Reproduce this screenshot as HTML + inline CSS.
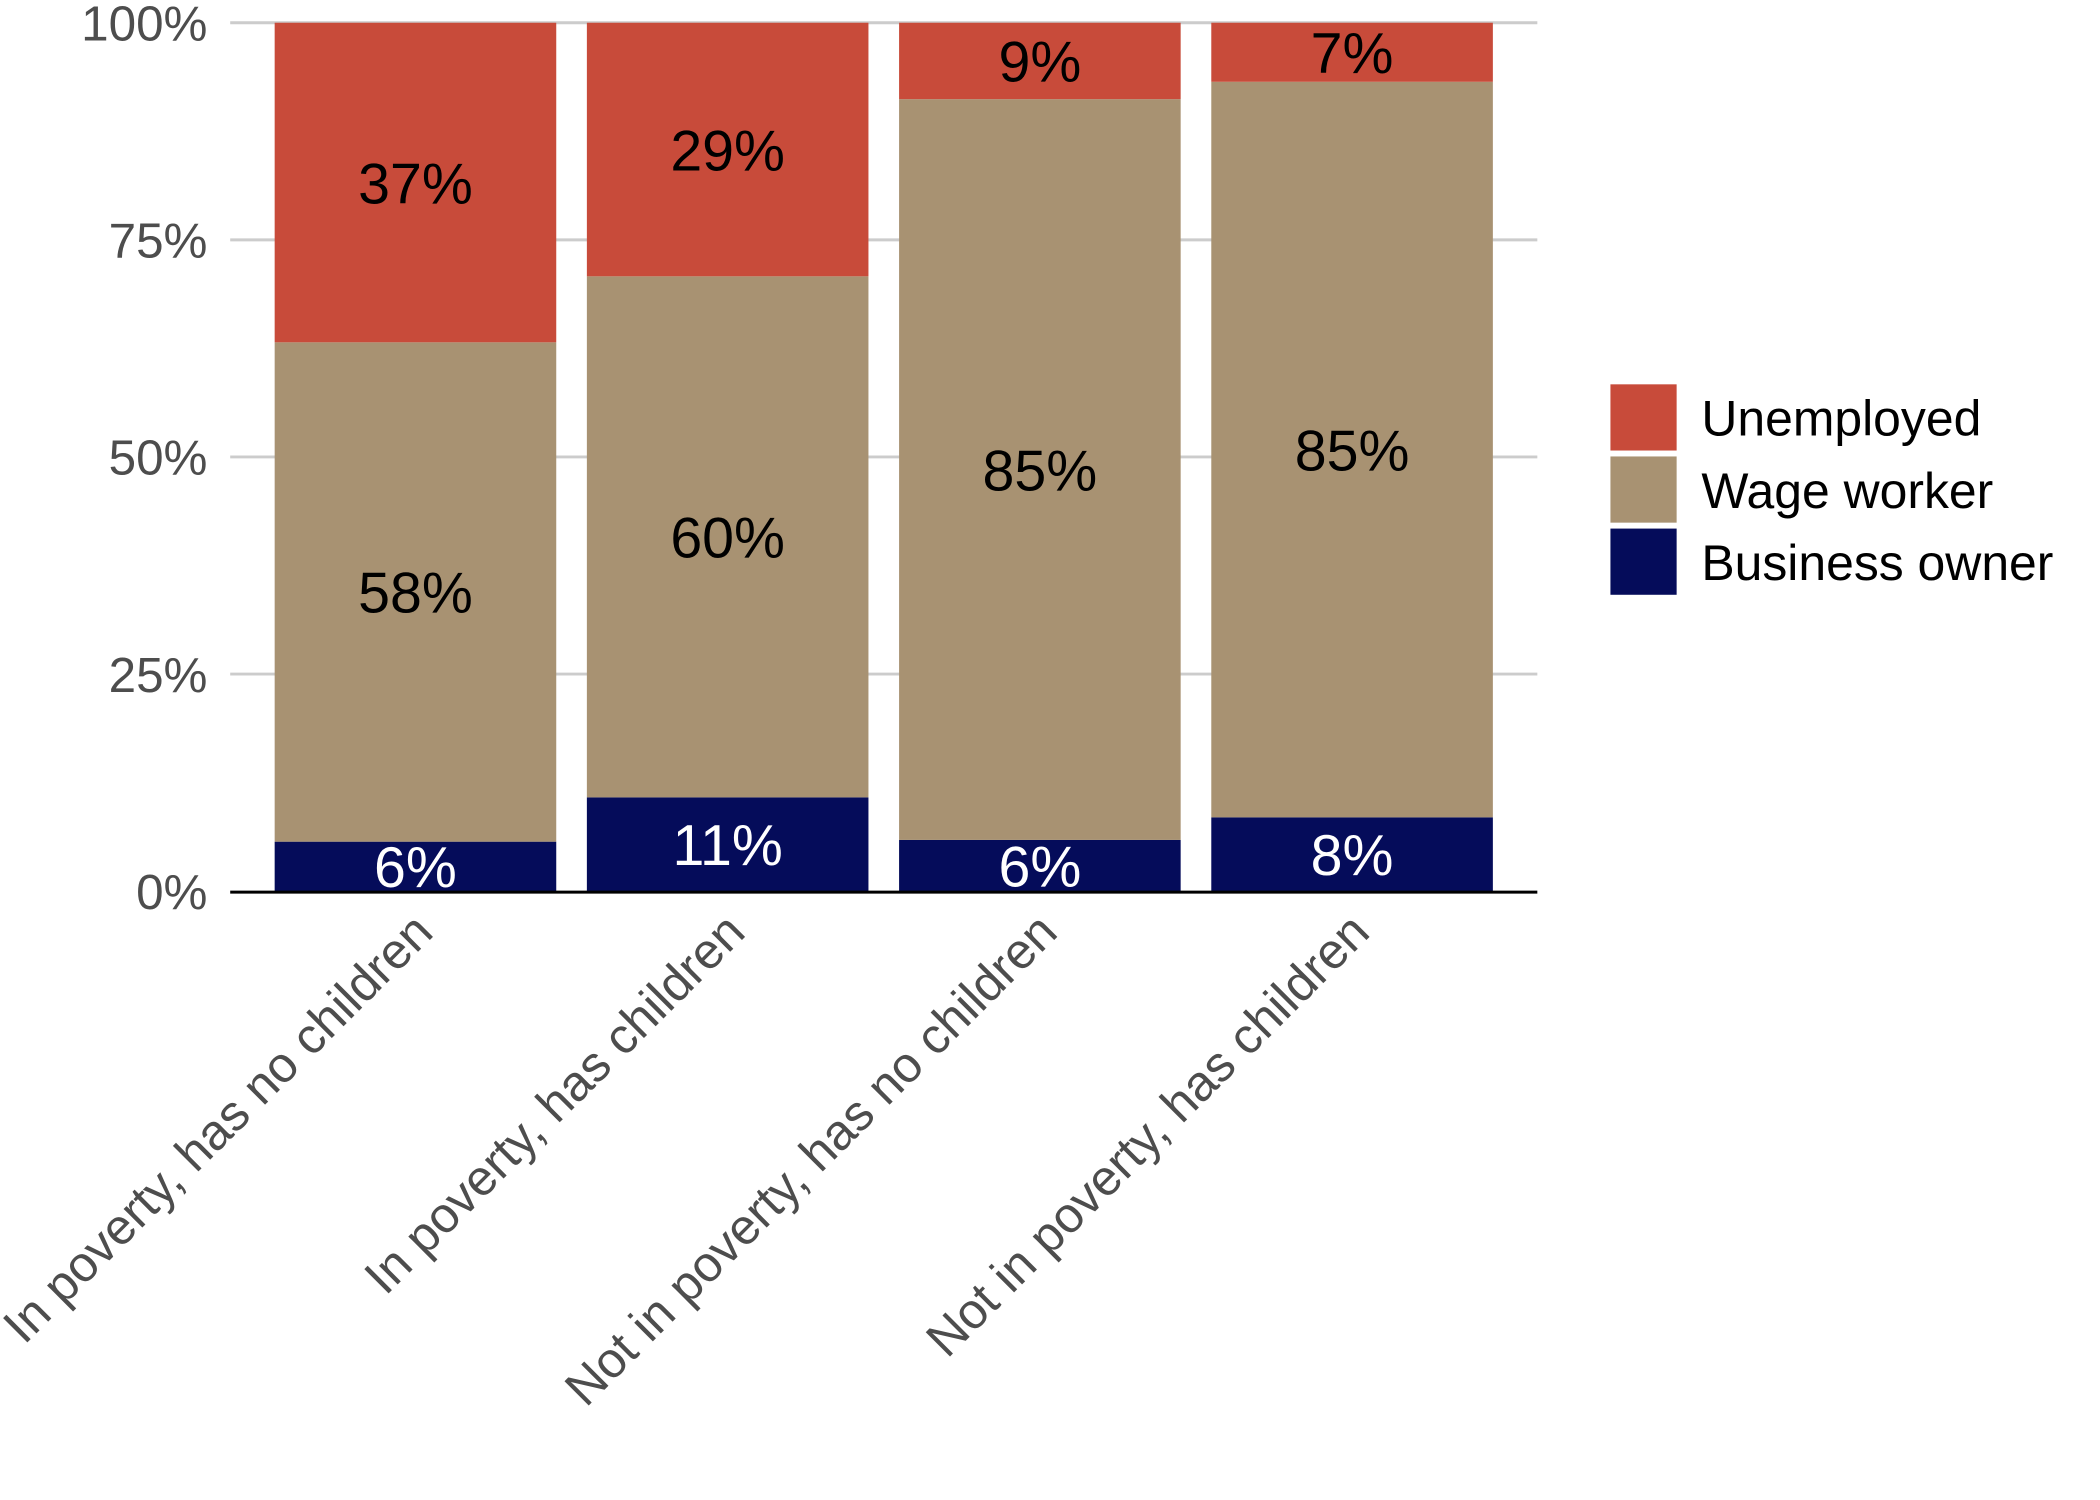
<!DOCTYPE html>
<html><head><meta charset="utf-8"><style>
html,body{margin:0;padding:0;background:#fff;}
svg{display:block;font-family:"Liberation Sans",Arial,sans-serif;}
</style></head><body>
<svg id="chart" width="2100" height="1500" viewBox="0 0 2100 1500" xmlns="http://www.w3.org/2000/svg">
<g transform="scale(0.988)">
<g id="grid"></g>
<g id="bars"></g>
<g id="labels"></g>
<g id="yaxis"></g>
<g id="xaxis"></g>
<g id="legend"></g>
</g>
</svg>
<script>
const categories = ["In poverty, has no children","In poverty, has children","Not in poverty, has no children","Not in poverty, has children"];
const seriesNames = ["Business owner","Wage worker","Unemployed"];
const businessOwner = [5.7, 10.8, 5.9, 8.5];
const wageWorker = [57.5, 60.0, 85.3, 84.7];
const unemployed = [36.8, 29.2, 8.8, 6.8];
const businessLabels = ["6%","11%","6%","8%"];
const wageLabels = ["58%","60%","85%","85%"];
const unemployedLabels = ["37%","29%","9%","7%"];
const yTicks = [0,25,50,75,100];
const yTickLabels = ["0%","25%","50%","75%","100%"];

const colors = ["#050c5a","#a89272","#c84b3a"];
const labelColors = ["#ffffff","#000000","#000000"];
const NS = "http://www.w3.org/2000/svg";
const X0 = 233, X1 = 1556, Y0 = 902, Y1 = 23;
const step = 316, barW = 285;
const y = v => Y0 - (v/100)*(Y0-Y1);
const xc = i => (X0+X1)/2 + (i - (categories.length-1)/2)*step;
function mk(tag, attrs, parent){const e=document.createElementNS(NS,tag);for(const k in attrs)e.setAttribute(k,attrs[k]);parent.appendChild(e);return e;}
const grid=document.getElementById('grid'), bars=document.getElementById('bars'), labels=document.getElementById('labels'), yaxis=document.getElementById('yaxis'), xaxis=document.getElementById('xaxis'), legend=document.getElementById('legend');

yTicks.forEach((t,i)=>{
  if(t>0){const l=mk('line',{x1:X0,x2:X1,y1:y(t),y2:y(t),stroke:'#cccccc','stroke-width':3},grid);
  
  }
  const tx=mk('text',{x:210,y:y(t)+18,'text-anchor':'end','font-size':50,fill:'#4d4d4d'},yaxis);
  tx.textContent=yTickLabels[i];
  
  
});

const series=[businessOwner,wageWorker,unemployed];
const seriesLabels=[businessLabels,wageLabels,unemployedLabels];
categories.forEach((c,i)=>{
  let base=0;
  series.forEach((s,j)=>{
    const top=base+s[i];
    const r=mk('rect',{x:xc(i)-barW/2,y:y(top),width:barW,height:y(base)-y(top),fill:colors[j]},bars);
    
    
    const t=mk('text',{x:xc(i),y:(y(base)+y(top))/2+21,'text-anchor':'middle','font-size':58,fill:labelColors[j]},labels);
    t.textContent=seriesLabels[j][i];
    
    
    base=top;
  });
  const ax=xc(i)+20, ay=946;
  const xt=mk('text',{x:ax,y:ay,'text-anchor':'end','font-size':50.5,fill:'#4d4d4d',transform:`rotate(-45 ${ax} ${ay})`},xaxis);
  xt.textContent=c;
  
  
});
const axl=mk('line',{x1:X0,x2:X1,y1:Y0+1,y2:Y0+1,stroke:'#000','stroke-width':3},xaxis);



const legOrder=[2,1,0], legY=[389,462,535];
legOrder.forEach((j,k)=>{
  const sw=mk('rect',{x:1630,y:legY[k],width:67,height:67,fill:colors[j]},legend);
  
  
  const t=mk('text',{x:1722,y:legY[k]+52,'font-size':50.5,fill:'#000'},legend);
  t.textContent=seriesNames[j];
  
  
});
</script>
</body></html>
